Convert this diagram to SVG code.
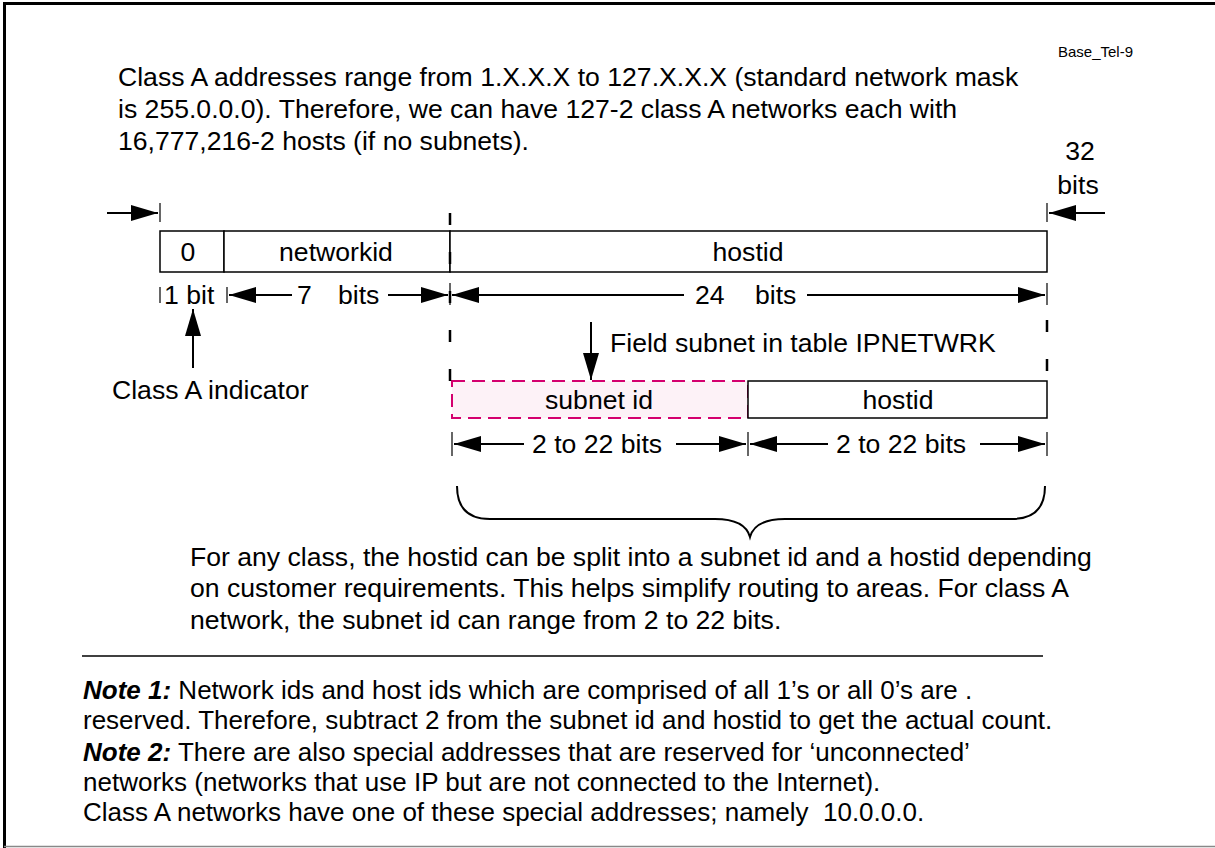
<svg xmlns="http://www.w3.org/2000/svg" width="1215" height="848" viewBox="0 0 1215 848">
  <style>
    text { font-family: "Liberation Sans", Arial, Helvetica, sans-serif; fill: #000; }
    .t { font-size: 26.6px; }
    .tc { font-size: 26.6px; text-anchor: middle; }
    .n { font-size: 26px; }
    .small { font-size: 15px; }
    .bi { font-weight: bold; font-style: italic; }
    .ln { stroke: #000; stroke-width: 2; fill: none; }
    .tick { stroke: #000; stroke-width: 1.2; }
    .arr { stroke: #000; stroke-width: 2; marker-end: url(#ah); }
    .dash { stroke: #000; stroke-width: 2.5; stroke-dasharray: 12 27; }
    .box { fill: #fff; stroke: #000; stroke-width: 1.5; }
  </style>
  <defs>
    <marker id="ah" markerUnits="userSpaceOnUse" markerWidth="30" markerHeight="17" refX="27" refY="8" orient="auto">
      <path d="M0,0 L27,8 L0,16 z" fill="#000"/>
    </marker>
  </defs>

  <rect width="1215" height="848" fill="#fff"/>
  <!-- page frame -->
  <path d="M4.5,848 V3.5 H1215" fill="none" stroke="#000" stroke-width="3"/>
  <line x1="4" y1="846.5" x2="1215" y2="846.5" stroke="#888" stroke-width="1.5"/>

  <text class="small" x="1133" y="57" text-anchor="end">Base_Tel-9</text>

  <g id="intro">
    <text class="t" x="118" y="86">Class A addresses range from 1.X.X.X to 127.X.X.X (standard network mask</text>
    <text class="t" x="118" y="118">is 255.0.0.0). Therefore, we can have 127-2 class A networks each with</text>
    <text class="t" x="118" y="150">16,777,216-2 hosts (if no subnets).</text>
  </g>

  <g id="total-width">
    <text class="tc" x="1080" y="160">32</text>
    <text class="tc" x="1078" y="194">bits</text>
  </g>

  <!-- 32-bit address layout -->
  <g id="field-zero">
    <rect class="box" x="160" y="231" width="64" height="41"/>
    <text class="tc" x="188" y="261">0</text>
  </g>
  <g id="field-networkid">
    <rect class="box" x="224" y="231" width="226" height="41"/>
    <text class="tc" x="336" y="261">networkid</text>
  </g>
  <g id="field-hostid">
    <rect class="box" x="450" y="231" width="597" height="41"/>
    <text class="tc" x="748" y="261">hostid</text>
  </g>

  <!-- subnetted host part -->
  <g id="field-subnet-id">
    <rect x="452" y="381" width="296" height="37" fill="#fdf2f7" stroke="#d4006e" stroke-width="2" stroke-dasharray="13 7"/>
    <text class="tc" x="599" y="409">subnet id</text>
  </g>
  <g id="field-sub-hostid">
    <rect class="box" x="748" y="381" width="299" height="37"/>
    <text class="tc" x="898" y="409">hostid</text>
  </g>

  <g id="label-class-a">
    <text class="t" x="112" y="399">Class A indicator</text>
  </g>
  <g id="label-field-subnet">
    <text class="t" x="610" y="352">Field subnet in table IPNETWRK</text>
  </g>

  <g id="bit-counts">
    <text class="t" x="164" y="304">1 bit</text>
    <text class="t" x="297" y="304">7</text>
    <text class="t" x="338" y="304">bits</text>
    <text class="t" x="695" y="304">24</text>
    <text class="t" x="755" y="304">bits</text>
    <text class="t" x="532" y="453">2 to 22 bits</text>
    <text class="t" x="836" y="453">2 to 22 bits</text>
  </g>

  <g id="explanation">
    <text class="t" x="190" y="566">For any class, the hostid can be split into a subnet id and a hostid depending</text>
    <text class="t" x="190" y="597">on customer requirements. This helps simplify routing to areas. For class A</text>
    <text class="t" x="190" y="629">network, the subnet id can range from 2 to 22 bits.</text>
  </g>

  <g id="notes">
    <text class="n" x="83" y="699"><tspan class="bi">Note 1:</tspan> Network ids and host ids which are comprised of all 1’s or all 0’s are .</text>
    <text class="n" x="83" y="729">reserved. Therefore, subtract 2 from the subnet id and hostid to get the actual count.</text>
    <text class="n" x="83" y="761"><tspan class="bi">Note 2:</tspan> There are also special addresses that are reserved for ‘unconnected’</text>
    <text class="n" x="83" y="791">networks (networks that use IP but are not connected to the Internet).</text>
    <text class="n" x="83" y="821" xml:space="preserve">Class A networks have one of these special addresses; namely  10.0.0.0.</text>
  </g>

  <g id="connectors">
    <!-- 32 bits extent -->
    <line class="arr" x1="107" y1="213" x2="158" y2="213"/>
    <line class="tick" x1="160" y1="203" x2="160" y2="222"/>
    <line class="arr" x1="1105" y1="213" x2="1049" y2="213"/>
    <line class="tick" x1="1047" y1="203" x2="1047" y2="222"/>

    <!-- network / host boundary -->
    <line class="dash" x1="450" y1="213" x2="450" y2="381"/>
    <line class="dash" x1="1047" y1="320" x2="1047" y2="381"/>

    <!-- bit counts row -->
    <line class="tick" x1="160" y1="287" x2="160" y2="303"/>
    <line class="tick" x1="227" y1="287" x2="227" y2="303"/>
    <line class="arr" x1="292" y1="295" x2="229" y2="295"/>
    <line class="arr" x1="388" y1="295" x2="448" y2="295"/>
    <line class="tick" x1="450" y1="283" x2="450" y2="305"/>
    <line class="arr" x1="684" y1="295" x2="452" y2="295"/>
    <line class="arr" x1="807" y1="295" x2="1045" y2="295"/>
    <line class="tick" x1="1047" y1="283" x2="1047" y2="305"/>

    <!-- pointers -->
    <line class="arr" x1="193" y1="368" x2="193" y2="309"/>
    <line class="arr" x1="591" y1="322" x2="591" y2="380"/>

    <!-- subnet bit counts row -->
    <line class="tick" x1="452" y1="432" x2="452" y2="456"/>
    <line class="tick" x1="748" y1="432" x2="748" y2="456"/>
    <line class="tick" x1="1047" y1="432" x2="1047" y2="456"/>
    <line class="arr" x1="524" y1="444" x2="454" y2="444"/>
    <line class="arr" x1="676" y1="444" x2="746" y2="444"/>
    <line class="arr" x1="828" y1="444" x2="750" y2="444"/>
    <line class="arr" x1="980" y1="444" x2="1045" y2="444"/>

    <!-- brace over the host part -->
    <path class="ln" stroke-width="1.3" d="M457,486 Q457,519 490,519 L715,519 Q745,519 750,537 Q755,519 785,519 L1012,519 Q1045,519 1045,486"/>

    <!-- rule above notes -->
    <line x1="82" y1="656" x2="1043" y2="656" stroke="#000" stroke-width="1.5"/>
  </g>
</svg>
